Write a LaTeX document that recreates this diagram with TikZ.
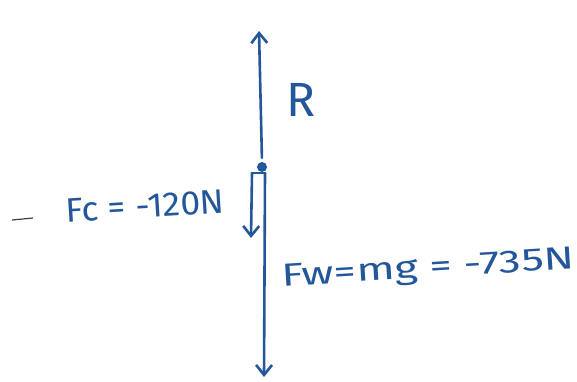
\documentclass[tikz,border=0pt]{standalone}
\usepackage{fontspec}
\setmainfont{Fira Sans}
\usetikzlibrary{arrows.meta}
\definecolor{ink}{HTML}{24579A}
\begin{document}
\begin{tikzpicture}[x=1pt,y=-1pt,
  force/.style={draw=ink,line width=2.6pt,line cap=round,line join=round,
    -{Straight Barb[length=10pt,width=16pt,line width=2.6pt]}},
  stroke/.style={draw=ink,line width=2.6pt,line cap=round},
  lbl/.style={text=ink,inner sep=0pt}]
\useasboundingbox (0,0) rectangle (577,381);
\node[circle,fill=ink,inner sep=0pt,minimum size=10pt] (body) at (262,167) {};
\coordinate (rtip) at (259,31);
\coordinate (fctop) at (252,173);
\coordinate (fctip) at (251,238);
\coordinate (fwtop) at (265,173);
\coordinate (fwtip) at (264,377);
\draw[force,shorten <=4pt] (body.north) -- (rtip);
\draw[stroke] (fctop) -- (fwtop);
\draw[force] (fctop) -- (fctip);
\draw[force] (fwtop) -- (fwtip);
\node[lbl,font=\fontsize{48}{48}\selectfont] (R) at (301,100) {R};
\node[lbl,font=\fontsize{34}{34}\selectfont,rotate=3.5,xscale=1.05] (fc) at (145,206) {Fc = -120N};
\node[lbl,font=\fontsize{32}{32}\selectfont,rotate=3.5,xscale=1.4] (fw) at (428,270) {Fw=mg = -735N};
\coordinate (d1) at (12,220);
\coordinate (d2) at (33,218);
\draw[draw=black!75,line width=1.2pt] (d1) -- (d2);
\end{tikzpicture}
\end{document}
